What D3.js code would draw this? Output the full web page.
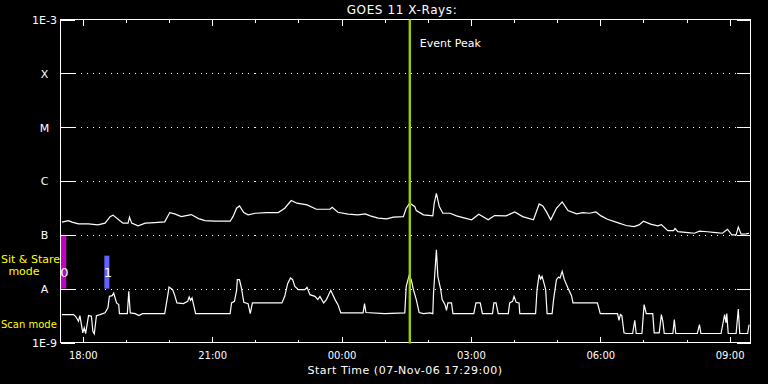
<!DOCTYPE html>
<html>
<head>
<meta charset="utf-8">
<script src="https://cdn.jsdelivr.net/npm/d3@7"></script>
<style>
  body { margin: 0; background: #000; }
  text { font-family: "DejaVu Sans", sans-serif; fill: #fff; }
</style>
</head>
<body>
<div id="container"></div>
<script>
const w = 768;
const h = 384;
const margin = {left: 60.5, right: 17.5, top: 19.5, bottom: 41.5};

// upper channel (1-8 A), time of day + flux in W/m^2
let longTimes = ["17:31","17:40","17:45","17:54","18:08","18:21","18:31","18:38","18:42","18:50","18:56","19:03","19:05","19:08","19:17","19:27","19:40","19:54","20:01","20:08","20:17","20:31","20:41","20:50","21:04","21:25","21:29","21:34","21:38","21:44","21:50","22:00","22:16","22:32","22:41","22:50","22:58","23:12","23:25","23:44","23:47","23:55","00:09","00:23","00:33","00:40","00:51","01:03","01:12","01:26","01:30","01:35","01:42","01:44","01:54","02:07","02:09","02:12","02:16","02:21","02:31","02:40","02:49","03:01","03:11","03:24","03:33","03:49","04:01","04:12","04:27","04:35","04:40","04:45","04:51","04:59","05:07","05:15","05:27","05:36","05:45","05:54","06:01","06:10","06:24","06:36","06:47","06:54","07:00","07:10","07:20","07:25","07:34","07:42","07:44","07:48","08:02","08:11","08:18","08:29","08:41","08:50","08:57","09:03","09:09","09:12","09:16","09:23","09:27"];
let longFlux = [1.72e-7,1.84e-7,1.72e-7,1.60e-7,1.60e-7,1.53e-7,1.65e-7,2.18e-7,2.32e-7,1.90e-7,1.65e-7,1.65e-7,2.13e-7,1.65e-7,1.47e-7,1.65e-7,1.69e-7,1.74e-7,2.59e-7,2.45e-7,2.18e-7,2.38e-7,2.00e-7,1.84e-7,1.79e-7,1.79e-7,2.18e-7,3.12e-7,3.44e-7,2.59e-7,2.35e-7,2.52e-7,2.59e-7,2.59e-7,3.12e-7,4.33e-7,3.87e-7,3.59e-7,2.99e-7,2.99e-7,3.26e-7,2.63e-7,2.42e-7,2.35e-7,2.45e-7,2.25e-7,2.04e-7,1.98e-7,2.13e-7,2.18e-7,3.12e-7,3.87e-7,3.34e-7,2.82e-7,2.35e-7,2.25e-7,3.87e-7,5.91e-7,3.34e-7,2.52e-7,2.52e-7,2.25e-7,2.09e-7,1.90e-7,2.42e-7,1.90e-7,2.28e-7,2.25e-7,2.66e-7,2.18e-7,1.90e-7,3.75e-7,3.44e-7,2.70e-7,1.90e-7,3.12e-7,4.08e-7,2.82e-7,2.45e-7,2.59e-7,2.52e-7,2.66e-7,2.25e-7,1.95e-7,1.69e-7,1.49e-7,1.42e-7,1.53e-7,1.79e-7,1.58e-7,1.47e-7,1.55e-7,1.20e-7,1.20e-7,1.31e-7,1.15e-7,1.10e-7,1.07e-7,1.17e-7,1.14e-7,1.10e-7,1.07e-7,1.27e-7,1.00e-7,1.00e-7,1.39e-7,1.03e-7,1.04e-7,1.07e-7];

// lower channel (0.5-4 A)
let shortTimes = ["17:31","17:47","17:50","17:54","17:56","18:00","18:02","18:04","18:08","18:12","18:14","18:16","18:19","18:24","18:31","18:35","18:37","18:41","18:43","18:47","18:50","18:51","19:02","19:04","19:06","19:13","19:18","19:23","19:54","19:58","20:00","20:05","20:08","20:11","20:20","20:26","20:28","20:30","20:32","20:37","21:25","21:27","21:31","21:34","21:35","21:38","21:41","21:44","21:50","21:53","21:56","22:37","22:41","22:45","22:49","22:52","22:55","23:00","23:09","23:12","23:16","23:23","23:27","23:30","23:35","23:39","23:45","23:51","23:55","23:59","00:30","00:32","00:34","01:00","01:28","01:30","01:34","01:37","01:40","01:44","01:48","01:54","02:03","02:07","02:08","02:12","02:14","02:18","02:20","02:24","02:26","02:28","02:33","02:35","03:04","03:07","03:13","03:16","03:30","03:32","03:35","03:38","03:52","03:54","03:58","04:00","04:03","04:07","04:08","04:30","04:32","04:35","04:37","04:39","04:41","04:44","04:46","04:53","04:55","04:59","05:02","05:04","05:07","05:10","05:15","05:20","05:22","05:56","06:00","06:24","06:26","06:28","06:30","06:33","06:36","06:45","06:48","06:50","06:58","07:00","07:01","07:04","07:13","07:15","07:22","07:25","07:27","07:29","07:41","07:43","07:45","08:15","08:18","08:20","08:48","08:53","08:55","08:56","08:58","09:09","09:12","09:14","09:25","09:27"];
let shortFlux = [3.3e-9,3.3e-9,3.07e-9,2.48e-9,3.16e-9,1.51e-9,1.87e-9,1.47e-9,3.16e-9,3.07e-9,1.62e-9,1.45e-9,3.16e-9,3.3e-9,3.55e-9,4.39e-9,7.2e-9,7.42e-9,8.3e-9,5.43e-9,5.05e-9,3.44e-9,3.44e-9,8.9e-9,3.55e-9,3.44e-9,3.16e-9,3.44e-9,3.44e-9,7.2e-9,1.07e-8,9.58e-9,7.42e-9,5.43e-9,5.27e-9,5.82e-9,7.02e-9,6.07e-9,6.73e-9,3.44e-9,3.44e-9,5.43e-9,5.82e-9,9.3e-9,1.47e-8,1.47e-8,9.9e-9,5.57e-9,5.27e-9,3.44e-9,5.43e-9,5.43e-9,7.2e-9,1.24e-8,1.58e-8,1.47e-8,1.10e-8,9.58e-9,9.58e-9,1.06e-8,7.74e-9,7.2e-9,6.26e-9,7.2e-9,5.43e-9,6.26e-9,9.3e-9,6.26e-9,5.05e-9,3.55e-9,3.55e-9,5.27e-9,3.6e-9,3.44e-9,3.55e-9,1.10e-8,1.74e-8,1.47e-8,9.58e-9,6.26e-9,3.6e-9,3.44e-9,3.55e-9,3.44e-9,8.3e-9,5.28e-8,1.69e-8,9.58e-9,6.26e-9,5.05e-9,3.97e-9,5.43e-9,5.43e-9,3.44e-9,3.44e-9,5.43e-9,5.43e-9,3.44e-9,3.44e-9,5.43e-9,5.43e-9,3.44e-9,3.44e-9,5.43e-9,5.82e-9,7.2e-9,5.57e-9,5.43e-9,3.44e-9,3.44e-9,9.58e-9,1.82e-8,1.51e-8,1.69e-8,1.37e-8,9.58e-9,3.44e-9,3.44e-9,6.26e-9,1.47e-8,1.65e-8,1.58e-8,2.09e-8,1.47e-8,1.03e-8,7.42e-9,5.43e-9,5.43e-9,3.44e-9,3.44e-9,2.59e-9,3.3e-9,3.16e-9,1.51e-9,1.47e-9,1.47e-9,2.59e-9,1.47e-9,1.47e-9,3.44e-9,5.05e-9,3.44e-9,3.44e-9,1.51e-9,1.51e-9,3.3e-9,2.48e-9,1.47e-9,1.47e-9,2.67e-9,1.47e-9,1.47e-9,2.15e-9,1.47e-9,1.47e-9,3.3e-9,2.32e-9,3.44e-9,1.47e-9,1.47e-9,4.2e-9,1.47e-9,1.47e-9,2.15e-9];

// y axis ticks
let yTickValues = [1e-9, 1e-8, 1e-7, 1e-6, 1e-5, 1e-4, 1e-3];
let yTickLabels = ["1E-9", "A", "B", "C", "M", "X", "1E-3"];

// instrument mode bars
let modeStart = ["17:29", "18:30"];
let modeEnd = ["17:37", "18:37"];
let modeTop = [1e-7, 4.1e-8];
let modeLabel = ["0", "1"];
let modeColor = ["#c400c4", "#6262ff"];

let peakTime = "01:35";
let startTime = new Date(2006, 10, 7, 17, 29);
let endTime = new Date(2006, 10, 8, 9, 29);

function parseT(s){
    let parts = s.split(":");
    let hh = +parts[0];
    let mm = +parts[1];
    let day = hh < 17 ? 8 : 7;
    return new Date(2006, 10, day, hh, mm);
}

let xScale = d3.scaleTime().domain([startTime, endTime]).range([margin.left, w - margin.right]);
let yScale = d3.scaleLog().domain([1e-9, 1e-3]).range([h - margin.bottom, margin.top]);

let x0 = margin.left, x1 = w - margin.right;
let y0 = margin.top, y1 = h - margin.bottom;

let viz = d3.select("#container").append("svg").attr("width", w).attr("height", h)
    .style("background", "#000");

// dotted grid lines
viz.append("g").selectAll("line").data(yTickValues.slice(1, -1)).enter().append("line")
    .attr("x1", x0 + 14).attr("x2", x1 - 14)
    .attr("y1", function(d){ return Math.round(yScale(d)) + 0.5 })
    .attr("y2", function(d){ return Math.round(yScale(d)) + 0.5 })
    .attr("stroke", "#fff").attr("stroke-dasharray", "1,5")
    .attr("shape-rendering", "crispEdges");

// mode bars
let bars = viz.append("g");
modeStart.forEach(function(s, i){
    let bx = xScale(parseT(s));
    let bw = xScale(parseT(modeEnd[i])) - bx;
    bars.append("rect")
        .attr("x", bx).attr("y", yScale(modeTop[i]))
        .attr("width", bw).attr("height", yScale(1e-8) - yScale(modeTop[i]))
        .attr("fill", modeColor[i]);
    bars.append("text")
        .attr("x", bx + bw / 2 + 1).attr("y", 277)
        .attr("text-anchor", "middle").attr("font-size", 13)
        .text(modeLabel[i]);
});

// curves
let line = d3.line()
    .x(function(d){ return xScale(d.t) })
    .y(function(d){ return yScale(d.f) });

let longData = longTimes.map(function(t, i){ return {t: parseT(t), f: longFlux[i]} });
let shortData = shortTimes.map(function(t, i){ return {t: parseT(t), f: shortFlux[i]} });

viz.append("path").datum(longData).attr("d", line)
    .attr("fill", "none").attr("stroke", "#fff").attr("stroke-width", 1.2);
viz.append("path").datum(shortData).attr("d", line)
    .attr("fill", "none").attr("stroke", "#fff").attr("stroke-width", 1.2);

// axes
function styleAxis(g){
    g.select(".domain").remove();
    g.selectAll("line").attr("stroke", "#fff").attr("shape-rendering", "crispEdges");
    g.selectAll("text").attr("fill", "#fff").attr("font-family", "DejaVu Sans, sans-serif").attr("font-size", 11);
}

let xMajor = d3.axisBottom(xScale).ticks(d3.timeHour.every(3)).tickSize(-6).tickPadding(9)
    .tickFormat(d3.timeFormat("%H:%M"));
let xMinor = d3.axisBottom(xScale).ticks(d3.timeHour.every(1)).tickSize(-3).tickFormat("");
viz.append("g").attr("transform", "translate(0," + y1 + ")").call(xMinor).call(styleAxis);
let xAxisGroup = viz.append("g").attr("transform", "translate(0," + y1 + ")").call(xMajor).call(styleAxis);
xAxisGroup.selectAll("text").attr("font-size", 10);
viz.append("g").attr("transform", "translate(0," + y0 + ")")
    .call(d3.axisTop(xScale).ticks(d3.timeHour.every(1)).tickSize(-3).tickFormat("")).call(styleAxis);
viz.append("g").attr("transform", "translate(0," + y0 + ")")
    .call(d3.axisTop(xScale).ticks(d3.timeHour.every(3)).tickSize(-6).tickFormat("")).call(styleAxis);

let yAxis = d3.axisLeft(yScale).tickValues(yTickValues).tickSize(-14).tickPadding(0)
    .tickFormat(function(d, i){ return yTickLabels[i] });
let yAxisGroup = viz.append("g").attr("transform", "translate(" + x0 + ",0)").call(yAxis).call(styleAxis);
yAxisGroup.selectAll("text").attr("text-anchor", "middle").attr("x", -16).attr("dy", "0.35em");
viz.append("g").attr("transform", "translate(" + x1 + ",0)")
    .call(d3.axisRight(yScale).tickValues(yTickValues).tickSize(-14).tickFormat("")).call(styleAxis);

// frame
viz.append("rect").attr("x", x0).attr("y", y0).attr("width", x1 - x0).attr("height", y1 - y0)
    .attr("fill", "none").attr("stroke", "#fff").attr("shape-rendering", "crispEdges");

// event peak
let px = xScale(parseT(peakTime));
viz.append("line").attr("x1", px).attr("x2", px).attr("y1", y0).attr("y2", y1 + 1)
    .attr("stroke", "#9ccc00").attr("stroke-width", 2.4);
viz.append("text").attr("x", px + 10).attr("y", 47).attr("font-size", 11).text("Event Peak");

// titles
viz.append("text").attr("x", 402).attr("y", 14).attr("text-anchor", "middle")
    .attr("font-size", 12).attr("letter-spacing", 0.6).text("GOES 11 X-Rays:");
viz.append("text").attr("x", 405).attr("y", 374).attr("text-anchor", "middle")
    .attr("font-size", 11).attr("letter-spacing", 0.5).text("Start Time (07-Nov-06 17:29:00)");

// mode labels
viz.append("text").attr("x", 1).attr("y", 263).attr("font-size", 11).style("fill", "#ffff00").text("Sit & Stare");
viz.append("text").attr("x", 24).attr("y", 275).attr("text-anchor", "middle").attr("font-size", 11).style("fill", "#ffff00").text("mode");
viz.append("text").attr("x", 1).attr("y", 328).attr("font-size", 10).style("fill", "#ffff00").text("Scan mode");
</script>
</body>
</html>
